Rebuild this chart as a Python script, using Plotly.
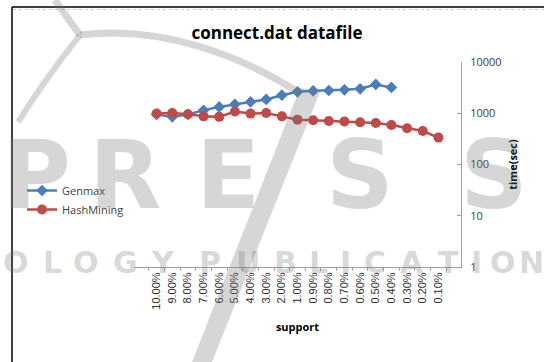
import plotly.graph_objects as go

# support thresholds (x categories)
support = ["10.00%", "9.00%", "8.00%", "7.00%", "6.00%", "5.00%", "4.00%", "3.00%",
           "2.00%", "1.00%", "0.90%", "0.80%", "0.70%", "0.60%", "0.50%", "0.40%",
           "0.30%", "0.20%", "0.10%"]

# running time in seconds
genmax = [950, 850, 950, 1145, 1330, 1500, 1660, 1860, 2250, 2620, 2740, 2780,
          2860, 3000, 3650, 3190]
hashmining = [990, 1010, 955, 870, 850, 1080, 985, 1010, 870, 750, 730, 705,
              690, 665, 645, 590, 510, 450, 335]

y_tickvals = [1, 10, 100, 1000, 10000]
y_ticktext = ["1", "10", "100", "1000", "10000"]

W, H = 544, 362
ML, MR, MT, MB = 134, 83, 62, 95
PW, PH = W - ML - MR, H - MT - MB

fig = go.Figure()
fig.add_trace(go.Scatter(
    x=support[:len(genmax)], y=genmax, name="Genmax", mode="lines+markers",
    line=dict(color="#4A7EBB", width=2.5),
    marker=dict(symbol="diamond", size=9, color="#4A7EBB"),
))
fig.add_trace(go.Scatter(
    x=support, y=hashmining, name="HashMining", mode="lines+markers",
    line=dict(color="#BE4B48", width=2.5),
    marker=dict(symbol="circle", size=10, color="#BE4B48"),
))


def px(x, y):
    """Figure pixel position -> paper coordinates (relative to the plot area)."""
    return (x - ML) / PW, (H - MB - y) / PH


shapes = []
# outer frame of the chart (left and top edges)
x0, y0 = px(12, 7)
x1, _ = px(W, 7)
_, yb = px(12, H)
shapes.append(dict(type="line", xref="paper", yref="paper",
                   x0=x0, x1=x1, y0=y0, y1=y0, line=dict(color="black", width=1.5)))
shapes.append(dict(type="line", xref="paper", yref="paper",
                   x0=x0, x1=x0, y0=yb, y1=y0, line=dict(color="black", width=1.5)))
_, yd = px(0, 9.5)
shapes.append(dict(type="line", xref="paper", yref="paper",
                   x0=px(13, 0)[0], x1=x1, y0=yd, y1=yd,
                   line=dict(color="#c8c8c8", width=1, dash="dot")))


def path(points, cubic=True):
    pts = [px(x, y) for x, y in points]
    d = "M %.4f,%.4f" % pts[0]
    if cubic:
        for i in range(1, len(pts), 3):
            d += " C %.4f,%.4f %.4f,%.4f %.4f,%.4f" % (pts[i] + pts[i + 1] + pts[i + 2])
    else:
        for p in pts[1:]:
            d += " L %.4f,%.4f" % p
    return d


wm = "rgba(120,120,120,0.30)"
# logo strokes in the background
shapes.append(dict(type="path", xref="paper", yref="paper", layer="above",
                   path=path([(55, 0), (65, 15), (75, 28), (80, 35)]),
                   line=dict(color=wm, width=7)))
shapes.append(dict(type="path", xref="paper", yref="paper", layer="above",
                   path=path([(80, 35), (60, 60), (35, 95), (18, 122)]),
                   line=dict(color=wm, width=6)))
shapes.append(dict(type="path", xref="paper", yref="paper", layer="above",
                   path=path([(80, 35), (160, 25), (240, 55), (298, 92)]),
                   line=dict(color=wm, width=7)))
shapes.append(dict(type="path", xref="paper", yref="paper", layer="above",
                   path=path([(300, 88), (320, 92), (212, 362), (192, 362)], cubic=False) + " Z",
                   fillcolor=wm, line=dict(width=0)))

annotations = []
for ch, xc in [("P", 36), ("R", 125), ("E", 228), ("S", 360), ("S", 494)]:
    x, y = px(xc, 175)
    annotations.append(dict(text="<b>" + ch + "</b>", x=x, y=y, xref="paper", yref="paper",
                            showarrow=False, xanchor="center", yanchor="middle",
                            font=dict(family="DejaVu Sans", size=94, color=wm)))
for ch, xc in [("O", 16), ("L", 52), ("O", 86), ("G", 125), ("Y", 163),
               ("P", 210), ("U", 248), ("B", 285), ("L", 318), ("I", 345),
               ("C", 375), ("A", 412), ("T", 448), ("I", 476), ("O", 503), ("N", 531)]:
    x, y = px(xc, 262)
    annotations.append(dict(text="<b>" + ch + "</b>", x=x, y=y, xref="paper", yref="paper",
                            showarrow=False, xanchor="center", yanchor="middle",
                            font=dict(family="DejaVu Sans", size=30, color=wm)))

lx, ly = px(22, 176)
fig.update_layout(
    width=W, height=H,
    margin=dict(l=ML, r=MR, t=MT, b=MB),
    paper_bgcolor="white", plot_bgcolor="white",
    font=dict(family="Liberation Sans", size=11, color="#404040"),
    title=dict(text="<b>connect.dat datafile</b>", x=277 / W, xanchor="center",
               y=1 - 33 / H, yanchor="middle",
               font=dict(family="Open Sans", size=17, color="black")),
    legend=dict(x=lx, y=ly, xanchor="left", yanchor="top",
                font=dict(family="Open Sans", size=11, color="#404040"),
                bgcolor="rgba(0,0,0,0)", tracegroupgap=2, itemwidth=30),
    xaxis=dict(type="category", categoryorder="array", categoryarray=support,
               tickangle=-90, tickson="boundaries", ticks="outside", ticklen=3,
               tickcolor="#a0a0a0", showline=True, linecolor="#a0a0a0",
               showgrid=False, zeroline=False,
               tickfont=dict(family="Liberation Sans", size=11, color="#303030"),
               title=dict(text="<b>support</b>", standoff=14,
                          font=dict(family="Open Sans", size=11, color="black"))),
    yaxis=dict(type="log", range=[0, 4], side="right", tickvals=y_tickvals,
               ticktext=y_ticktext, ticks="inside", ticklen=4, tickcolor="#a0a0a0",
               ticklabelstandoff=6,
               showline=True, linecolor="#a0a0a0", showgrid=False, zeroline=False,
               tickfont=dict(family="Open Sans", size=11, color="#404040"),
               title=dict(text="<b>time(sec)</b>", standoff=8,
                          font=dict(family="Open Sans", size=11, color="black"))),
    shapes=shapes,
    annotations=annotations,
)

fig.write_html("out.html")
